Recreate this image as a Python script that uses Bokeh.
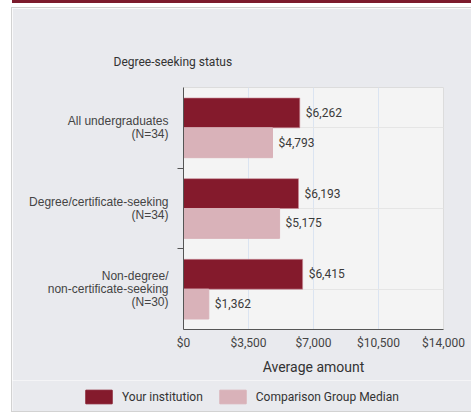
from bokeh.plotting import figure
from bokeh.layouts import column
from bokeh.models import (FactorRange, Range1d, FixedTicker, NumeralTickFormatter,
                          CategoricalAxis, Legend, LegendItem,
                          ColumnDataSource, Title)
from bokeh.transform import dodge
from bokeh.core.properties import value
from bokeh.embed import file_html
from bokeh.resources import INLINE

# ---- data ----
categories = [
    "All undergraduates\n(N=34)",
    "Degree/certificate-seeking\n(N=34)",
    "Non-degree/\nnon-certificate-seeking\n(N=30)",
]
your_institution = [6262, 6193, 6415]
comparison_median = [4793, 5175, 1362]
x_ticks = [0, 3500, 7000, 10500, 14000]
series_names = ["Your institution", "Comparison Group Median"]
chart_title = "Degree-seeking status"
x_title = "Average amount"

DARK = "#841a2c"
LIGHT = "#d9b2b9"
PANEL = "#e9eaee"
FRAME = "#f4f4f4"


def money(v):
    return "${:,}".format(v)


src = ColumnDataSource(dict(
    cat=categories,
    yours=your_institution,
    comp=comparison_median,
    yours_lbl=[money(v) for v in your_institution],
    comp_lbl=[money(v) for v in comparison_median],
))

# ---------------- main chart ----------------
p = figure(
    width=459, height=372,
    y_range=FactorRange(factors=categories[::-1]),
    x_range=Range1d(x_ticks[0], x_ticks[-1]),
    y_axis_location=None,
    output_backend="svg", toolbar_location=None,
    min_border_left=171, min_border_right=28,
    min_border_top=79, min_border_bottom=51,
    background_fill_color=FRAME, border_fill_color=PANEL,
    outline_line_color="#dcdcdc",
)

bar_kw = dict(height=0.37, source=src)
r1 = p.hbar(y=dodge("cat", 0.185, range=p.y_range), right="yours",
            fill_color=DARK, line_color="#c98c97", line_alpha=0.6, **bar_kw)
r2 = p.hbar(y=dodge("cat", -0.185, range=p.y_range), right="comp",
            fill_color=LIGHT, line_color=LIGHT, **bar_kw)

# value labels
for col, xcol, off in (("yours_lbl", "yours", 0.185), ("comp_lbl", "comp", -0.185)):
    p.text(x=xcol, y=dodge("cat", off, range=p.y_range), text=col, source=src,
           x_offset=6, text_baseline="middle", text_align="left",
           text_font=value("Roboto"), text_font_size="12px", text_color="#3a3a3a")

# y axes: boundary ticks between categories (inner) + category labels (outer)
edge_names = [str(i) for i in range(len(categories) + 1)]
p.extra_y_ranges = {"edges": FactorRange(factors=edge_names,
                                         range_padding=-1.0 / len(edge_names))}
tick_axis = CategoricalAxis(y_range_name="edges",
                            major_label_text_font_size="0px", major_label_standoff=0,
                            major_tick_out=6, major_tick_in=0,
                            major_tick_line_color="#555555", axis_line_color="#555555")
p.add_layout(tick_axis, "left")
cat_axis = CategoricalAxis(axis_line_color=None, major_tick_line_color=None,
                           major_label_standoff=3,
                           major_label_text_font="Liberation Sans",
                           major_label_text_font_size="12px",
                           major_label_text_color="#444444",
                           major_label_text_line_height=0.95)
p.add_layout(cat_axis, "left")

# x axis
xa = p.xaxis[0]
xa.ticker = FixedTicker(ticks=x_ticks)
xa.formatter = NumeralTickFormatter(format="$0,0")
xa.major_tick_line_color = None
xa.major_tick_out = 0
xa.major_tick_in = 0
xa.minor_tick_line_color = None
xa.axis_line_color = "#555555"
xa.major_label_standoff = 6
xa.major_label_text_font = "Roboto"
xa.major_label_text_font_size = "12px"
xa.major_label_text_color = "#444444"
xa.axis_label = x_title
xa.axis_label_standoff = 6
xa.axis_label_text_font = "Roboto"
xa.axis_label_text_font_size = "14px"
xa.axis_label_text_font_style = "normal"
xa.axis_label_text_color = "#333333"

p.xgrid.grid_line_color = "#dbe4f1"

p.title = Title(text=chart_title, align="left", offset=-70, standoff=38,
                text_font="Roboto", text_font_size="12px",
                text_font_style="normal", text_color="#333333")

# ---------------- legend strip ----------------
leg = figure(
    width=459, height=31,
    y_range=FactorRange(factors=categories[::-1]),
    x_range=Range1d(-2, -1),
    x_axis_location=None, y_axis_location=None,
    output_backend="svg", toolbar_location=None,
    min_border=0, min_border_left=0, min_border_right=0,
    min_border_top=0, min_border_bottom=0,
    background_fill_color=PANEL, border_fill_color=PANEL,
    outline_line_color=None,
)
# keep the strip's frame independent of the chart's frame
for fig in (p, leg):
    if "frame_align" in fig.properties():
        fig.frame_align = False
leg.xgrid.grid_line_color = None
leg.ygrid.grid_line_color = None
lr1 = leg.hbar(y="cat", right="yours", fill_color=DARK, line_color=DARK, **bar_kw)
lr2 = leg.hbar(y="cat", right="comp", fill_color=LIGHT, line_color=LIGHT, **bar_kw)

legend = Legend(items=[LegendItem(label=series_names[0], renderers=[lr1]),
                       LegendItem(label=series_names[1], renderers=[lr2])],
                orientation="horizontal", location=(70, 6), margin=0, padding=0,
                border_line_color=None, background_fill_alpha=0,
                glyph_width=33, glyph_height=17, label_standoff=7, spacing=13,
                label_text_font="Roboto", label_text_font_size="12px",
                label_text_color="#333333")
leg.add_layout(legend, "center")

page = column(p, leg, spacing=0,
              styles={"margin-left": "12px", "margin-top": "8px",
                      "outline": "1px solid #d2d2d2",
                      "box-shadow": "0 -5px 0 0 #ffffff, 0 -8px 0 0 #7b1a2c"})

open("out.html", "w").write(file_html(page, INLINE))
